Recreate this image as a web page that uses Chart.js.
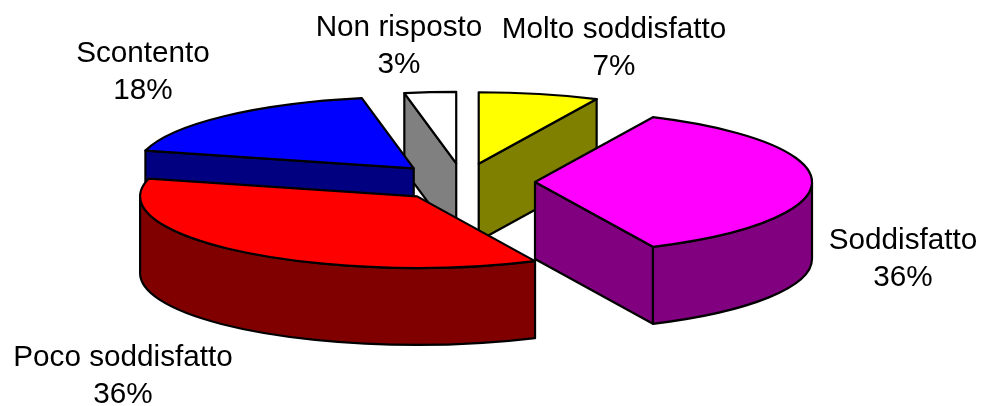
<!DOCTYPE html>
<html>
<head>
<meta charset="utf-8">
<title>Soddisfazione</title>
<script src="https://cdn.jsdelivr.net/npm/chart.js@4"></script>
<style>
	html, body { margin: 0; padding: 0; background: #fff; overflow: hidden; }
	canvas { display: block; }
</style>
</head>
<body>
<canvas id="pie" width="983" height="406"></canvas>
<script>
const categories = ['Molto soddisfatto', 'Soddisfatto', 'Poco soddisfatto', 'Scontento', 'Non risposto'];
const values = [7, 36, 36, 18, 3];
const topColors = ['#ffff00', '#ff00ff', '#ff0000', '#0000ff', '#ffffff'];
const sideColors = ['#808000', '#800080', '#800000', '#000080', '#808080'];

// back slices first, the front ones paint over them
const drawOrder = [0, 4, 1, 3, 2];
const labelSpots = [[614, 30], [903, 241], [123, 358], [143, 54], [399, 28]];

const squash = 0.2585;
const depth = 77;
const lineHeight = 36.5;

function drawSlice(ctx, arc, top, side) {
	const mid = (arc.startAngle + arc.endAngle) / 2;
	const ax = arc.x + Math.cos(mid) * arc.options.offset;
	const ay = arc.y + Math.sin(mid) * arc.options.offset * squash;
	const r = arc.outerRadius;
	const rimX = (a) => ax + Math.cos(a) * r;
	const rimY = (a) => ay + Math.sin(a) * r * squash;

	ctx.lineWidth = 2.2;
	ctx.lineJoin = 'round';
	ctx.strokeStyle = '#000';
	ctx.fillStyle = side;

	// cut faces, only the ones turned to the viewer
	[[arc.startAngle, Math.cos(arc.startAngle) < -1e-6], [arc.endAngle, Math.cos(arc.endAngle) > 1e-6]].forEach(([a, visible]) => {
		if (!visible) return;
		ctx.beginPath();
		ctx.moveTo(ax, ay);
		ctx.lineTo(rimX(a), rimY(a));
		ctx.lineTo(rimX(a), rimY(a) + depth);
		ctx.lineTo(ax, ay + depth);
		ctx.closePath();
		ctx.fill();
		ctx.stroke();
	});

	// outer wall, front half of the rim
	const from = Math.max(arc.startAngle, 0);
	const to = Math.min(arc.endAngle, Math.PI);
	if (to > from) {
		ctx.beginPath();
		ctx.ellipse(ax, ay, r, r * squash, 0, from, to);
		ctx.lineTo(rimX(to), rimY(to) + depth);
		ctx.ellipse(ax, ay + depth, r, r * squash, 0, to, from, true);
		ctx.closePath();
		ctx.fill();
		ctx.stroke();
	}

	ctx.fillStyle = top;
	ctx.beginPath();
	ctx.moveTo(ax, ay);
	ctx.ellipse(ax, ay, r, r * squash, 0, arc.startAngle, arc.endAngle);
	ctx.closePath();
	ctx.fill();
	ctx.stroke();
}

const pie3d = {
	id: 'pie3d',
	beforeDatasetDraw(chart, args) {
		const ctx = chart.ctx;
		const arcs = args.meta.data;
		ctx.save();
		drawOrder.forEach((i) => drawSlice(ctx, arcs[i], topColors[i], sideColors[i]));
		ctx.restore();
		return false;
	},
	afterDraw(chart) {
		const ctx = chart.ctx;
		ctx.save();
		ctx.fillStyle = '#000';
		ctx.font = '29.7px "Liberation Sans", Arial, sans-serif';
		ctx.textAlign = 'center';
		ctx.textBaseline = 'middle';
		categories.forEach((name, i) => {
			const [x, y] = labelSpots[i];
			ctx.fillText(name, x, y);
			ctx.fillText(values[i] + '%', x, y + lineHeight);
		});
		ctx.restore();
	}
};

new Chart(document.getElementById('pie').getContext('2d'), {
	type: 'pie',
	data: {
		labels: categories,
		datasets: [{
			data: values,
			backgroundColor: topColors,
			offset: 72,
			borderWidth: 0,
			clip: false
		}]
	},
	options: {
		responsive: false,
		animation: false,
		radius: 277,
		layout: { padding: { right: 57, bottom: 42 } },
		plugins: {
			legend: { display: false },
			tooltip: { enabled: false }
		}
	},
	plugins: [pie3d]
});
</script>
</body>
</html>
